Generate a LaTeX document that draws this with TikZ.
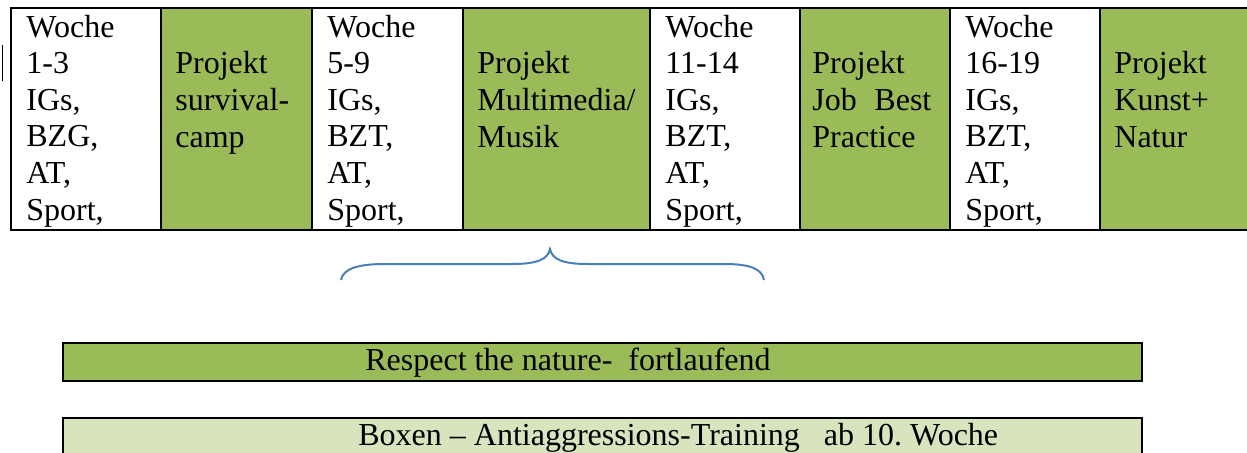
\documentclass[tikz,border=0pt]{standalone}
\usepackage{fontspec}
\setmainfont{Liberation Serif}
\usetikzlibrary{positioning}
\definecolor{projGreen}{HTML}{9BBB59}
\definecolor{paleGreen}{HTML}{D7E4BD}
\definecolor{braceBlue}{HTML}{4A7EBB}

\begin{document}
\begin{tikzpicture}[
  x=0.5pt, y=-0.5pt,
  cell/.style={draw=black, line width=1pt, minimum height=111pt, inner sep=0pt, anchor=north west},
  % oberkante = strut der ersten zeile (0.7 * 18.3pt)
  ctext/.style={font=\fontsize{16}{18.3}\selectfont, align=left, anchor=north west, inner sep=0pt},
  wtext/.style={ctext, xshift=8pt, yshift=-2pt},
  ptext/.style={ctext, xshift=7.5pt, yshift=-20.4pt},
  band/.style={draw=black, line width=1pt, inner sep=0pt, anchor=north west, minimum width=539.5pt},
  btext/.style={font=\fontsize{16}{18.3}\selectfont, anchor=base west, inner sep=0pt}
]
  %% --- ausschnitt (einheit: pixel der vorlage) ---
  \clip (0,0) rectangle (1247,452);
  \fill[white] (0,0) rectangle (1247,452);

  %% --- tabelle: wochenblock / projekt im wechsel ---
  \foreach \xl/\xr/\fc [count=\i] in {10/160/white, 160/311/projGreen,
    311/462/white, 462/649/projGreen, 649/799/white, 799/949/projGreen,
    949/1099/white, 1099/1262/projGreen} {
    \pgfmathsetmacro{\ww}{(\xr-\xl)/2}
    \node[cell, fill=\fc, minimum width=\ww pt] (c\i) at (\xl,7) {};
  }

  \node[wtext] (t1) at (c1.north west) {\strut Woche\\1-3\\IGs,\\BZG,\\AT,\\Sport,};
  \node[ptext] (t2) at (c2.north west) {\strut Projekt\\survival-\\camp};
  \node[wtext] (t3) at (c3.north west) {\strut Woche\\5-9\\IGs,\\BZT,\\AT,\\Sport,};
  \node[ptext] (t4) at (c4.north west) {\strut Projekt\\Multimedia/\\Musik};
  \node[wtext] (t5) at (c5.north west) {\strut Woche\\11-14\\IGs,\\BZT,\\AT,\\Sport,};
  \node[ptext, xshift=-1pt] (t6) at (c6.north west) {\strut Projekt\\Job\hspace{0.55em}Best\\Practice};
  \node[wtext] (t7) at (c7.north west) {\strut Woche\\16-19\\IGs,\\BZT,\\AT,\\Sport,};
  \node[ptext] (t8) at (c8.north west) {\strut Projekt\\Kunst+\\Natur};

  %% schreibmarke links neben der tabelle
  \draw[line width=0.8pt] (2.5,45) -- (2.5,81);

  %% --- klammer unter den mittleren spalten ---
  \draw[braceBlue, line width=1pt]
    (341,280) .. controls (343,268) and (360,264) .. (385,264) -- (512,264)
    .. controls (538,264) and (548,259) .. (550,249)
    .. controls (552,259) and (562,264) .. (588,264) -- (724,264)
    .. controls (748,264) and (762,268) .. (764,280);

  %% --- durchlaufende angebote ---
  \node[band, fill=projGreen, minimum height=19pt] (natur) at (62,342) {};
  \node[btext] (naturtxt) at (365,370) {Respect the nature-\hspace{0.5em}fortlaufend};
  \node[band, fill=paleGreen, minimum height=30pt] (boxen) at (62,417) {};
  \node[btext] (boxentxt) at (358,445) {Boxen -- Antiaggressions-Training\hspace{0.75em}ab 10.\ Woche};
\end{tikzpicture}
\end{document}
